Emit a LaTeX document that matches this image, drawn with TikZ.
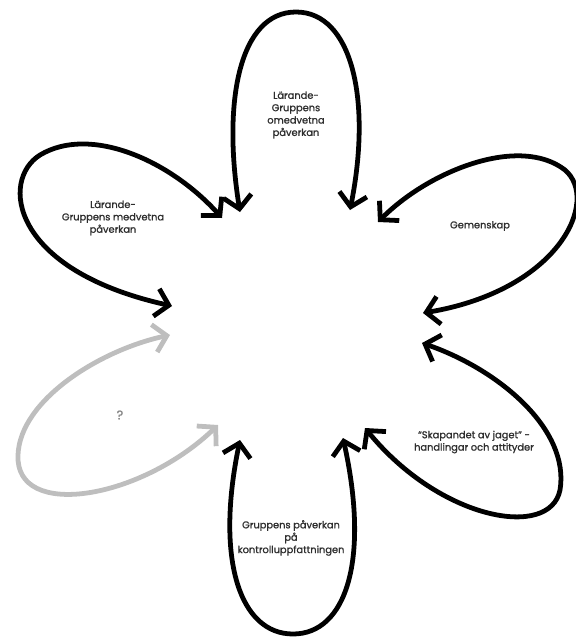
\documentclass[tikz,border=0pt]{standalone}
\usepackage{fontspec}
\setmainfont{Poppins}
\newfontfamily\petalfont{Poppins}[FakeBold=1.2]
\usetikzlibrary{arrows.meta, positioning}
\definecolor{petalgrey}{RGB}{190,190,190}
\definecolor{textgrey}{RGB}{45,45,45}

\begin{document}
\begin{tikzpicture}[
    x=0.025cm, y=-0.025cm,
    petal/.style={line width=3.4pt, draw=black, {Straight Barb[length=3.2mm, width=7mm]}-{Straight Barb[length=3.2mm, width=7mm]}},
    greypetal/.style={petal, draw=petalgrey},
    lbl/.style={align=center, text=textgrey, font=\petalfont\fontsize{7}{8.8}\selectfont}
]
\useasboundingbox (0,0) rectangle (575,639);

% Arrow ends
\coordinate (topL) at (240,212);
\coordinate (topR) at (350,210);
\coordinate (ulA) at (222,218);
\coordinate (ulB) at (172,306);
\coordinate (urA) at (378,222);
\coordinate (urB) at (423,313);
\coordinate (llA) at (170,335);
\coordinate (llB) at (218,425);
\coordinate (lrA) at (422,343);
\coordinate (lrB) at (365,428);
\coordinate (botL) at (240,440);
\coordinate (botR) at (343,438);

% Labels
\node[lbl] (omedvetna) at (296,115) {Lärande-\\Gruppens\\omedvetna\\påverkan};
\node[lbl] (medvetna) at (113,218) {Lärande-\\Gruppens medvetna\\påverkan};
\node[lbl] (gemenskap) at (480,226) {Gemenskap};
\node[lbl, text=petalgrey!70!black, font=\petalfont\fontsize{9}{10}\selectfont] (fraga) at (120,415) {?};
\node[lbl] (jaget) at (474,442) {“Skapandet av jaget” -\\handlingar och attityder};
\node[lbl] (kontroll) at (291,538) {Gruppens påverkan\\på\\kontrolluppfattningen};

% Petals
\draw[petal] (topL) .. controls (222,100) and (240,12) .. (296,12)
    .. controls (352,12) and (372,100) .. (topR);
\draw[petal] (ulA) .. controls (170,160) and (90,125) .. (40,155)
    .. controls (0,180) and (10,270) .. (ulB);
\draw[petal] (urA) .. controls (430,170) and (520,135) .. (565,170)
    .. controls (600,200) and (560,290) .. (urB);
\draw[greypetal] (llA) .. controls (100,350) and (20,400) .. (18,455)
    .. controls (15,520) and (140,500) .. (llB);
\draw[petal] (lrA) .. controls (500,370) and (570,430) .. (560,490)
    .. controls (550,540) and (440,520) .. (lrB);
\draw[petal] (botL) .. controls (215,560) and (240,634) .. (293,634)
    .. controls (346,634) and (370,560) .. (botR);

\end{tikzpicture}
\end{document}
